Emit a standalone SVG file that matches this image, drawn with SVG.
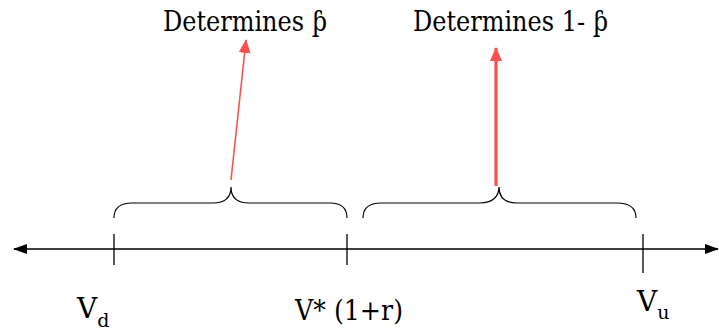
<svg xmlns="http://www.w3.org/2000/svg" width="719" height="333" viewBox="0 0 719 333">
<style>
text{font-family:'DejaVu Serif';font-size:28px;fill:#000}
.s{font-size:19px}
.ax{stroke:#000;stroke-width:1.3;fill:none}
.br{stroke:#000;stroke-width:1.2;fill:none}
.red{stroke:#ff5050;fill:none}
</style>
<defs>
<marker id="ah" markerUnits="userSpaceOnUse" viewBox="0 0 14 12" refX="13" refY="6" markerWidth="14" markerHeight="12" orient="auto"><path d="M0,0 L14,6 L0,12 Z" fill="#ff5050"/></marker>
<marker id="bk" markerUnits="userSpaceOnUse" viewBox="0 0 14 10" refX="13" refY="5" markerWidth="14" markerHeight="10" orient="auto-start-reverse"><path d="M0,0 L14,5 L0,10 Z" fill="#000"/></marker>
</defs>
<g id="axis">
<line class="ax" x1="14" y1="249" x2="718" y2="249" marker-start="url(#bk)" marker-end="url(#bk)"/>
<line class="ax" x1="114" y1="234" x2="114" y2="265"/>
<line class="ax" x1="347" y1="234" x2="347" y2="265"/>
<line class="ax" x1="643" y1="234" x2="643" y2="273"/>
</g>
<g id="brace1"><path class="br" d="M114,218 C114,208 120,203 132,203 L213,203 C225,203 231,197 231,187 C231,197 237,203 249,203 L330,203 C342,203 347,208 347,218"/></g>
<g id="brace2"><path class="br" d="M363,218 C363,208 369,203 381,203 L480,203 C492,203 499,197 499,187 C499,197 505,203 517,203 L617,203 C629,203 636,208 636,218"/></g>
<g id="connectors">
<line class="red" stroke-width="1.6" x1="231" y1="180" x2="246" y2="40" marker-end="url(#ah)"/>
<line class="red" stroke-width="3.2" x1="496" y1="186" x2="496" y2="48" marker-end="url(#ah)"/>
</g>
<g id="label-p"><text x="163" y="31" textLength="164" lengthAdjust="spacingAndGlyphs">Determines ƥ</text></g>
<g id="label-1p"><text x="413" y="31" textLength="195" lengthAdjust="spacingAndGlyphs">Determines 1- ƥ</text></g>
<g id="label-vd"><text x="77" y="318">V<tspan class="s" dy="9">d</tspan></text></g>
<g id="label-vstar"><text x="295" y="320" textLength="108" lengthAdjust="spacingAndGlyphs">V* (1+r)</text></g>
<g id="label-vu"><text x="637" y="311">V<tspan class="s" dy="8">u</tspan></text></g>
</svg>
